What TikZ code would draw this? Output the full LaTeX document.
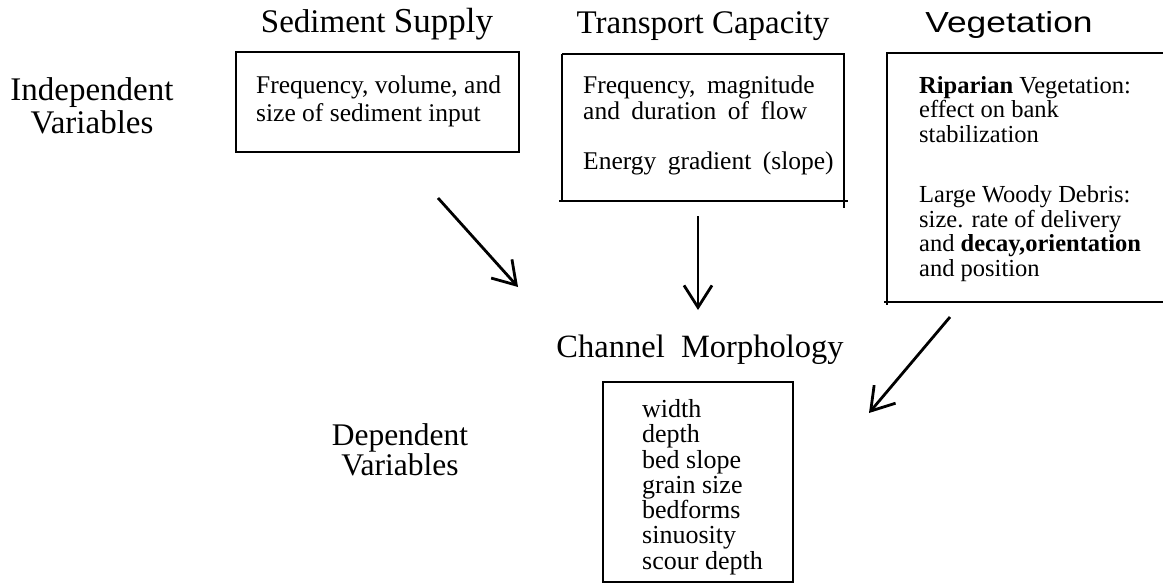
\documentclass[tikz,border=0pt]{standalone}
\usepackage{fontspec}
\setmainfont{Liberation Serif}
\newfontfamily\sansf{Liberation Sans}
\usetikzlibrary{arrows.meta}
\tikzset{
  lbl/.style={anchor=base, inner sep=0pt, font=\fontsize{33}{31}\selectfont},
  txt/.style={anchor=base west, inner sep=0pt},
  boxline/.style={draw=black, line width=2.2pt},
  arr/.style={line width=2.8pt, -{Straight Barb[length=22pt,width=28pt,line width=2.8pt]}}
}
\begin{document}
\begin{tikzpicture}[x=1pt,y=-1pt]
\useasboundingbox (0,0) rectangle (1163,586);
% side labels
\node[lbl] (indep) at (92,101) {\begin{tabular}[t]{@{}c@{}}Independent\\Variables\end{tabular}};
\node[lbl, font=\fontsize{31.5}{30}\selectfont] (dep) at (400,445) {\begin{tabular}[t]{@{}c@{}}Dependent\\Variables\end{tabular}};
% titles
\node[lbl] (tsed) at (377,33) {Sediment {\fontsize{35}{35}\selectfont Supply}};
\node[lbl] (ttra) at (703,34) {Transport Capacity};
\node[lbl, font=\sansf\fontsize{29}{28}\selectfont] (tveg) at (1009,33) {\scalebox{1.22}[1]{Vegetation}};
\node[lbl, font=\fontsize{32.5}{32}\selectfont] (tmor) at (700,357) {Channel\ \ Morphology};
% boxes
\draw[boxline] (236,52) rectangle (519,152);
\draw[boxline] (562,54) -- (844,54) -- (844,208);
\draw[boxline] (562,54) -- (562,201);
\draw[boxline] (559,201) -- (848,201);
\draw[boxline] (1166,53) -- (887,53) -- (887,305);
\draw[boxline] (884,302) -- (1166,302);
\draw[boxline] (603,382) rectangle (793,582);
% box texts
\node[txt] (sedtxt) at (256,94) {\fontsize{25.5}{28}\selectfont
  \begin{tabular}[t]{@{}l@{}}Frequency, volume, and\\size of sediment input\end{tabular}};
\node[txt] (tratxt) at (583,93) {\fontsize{25.5}{26}\selectfont\spaceskip=0.45em
  \begin{tabular}[t]{@{}l@{}}Frequency, magnitude\\and duration of flow\\[25pt]Energy gradient (slope)\end{tabular}};
\node[txt] (vegtxt) at (919,93) {\fontsize{24.5}{24.5}\selectfont
  \begin{tabular}[t]{@{}l@{}}{\bfseries Riparian} Vegetation:\\effect on bank\\stabilization\\[36pt]Large Woody Debris:\\size. rate of delivery\\and {\bfseries decay,orientation}\\and position\end{tabular}};
\node[txt] (mortxt) at (642,417) {\fontsize{26}{25}\selectfont
  \begin{tabular}[t]{@{}l@{}}width\\depth\\bed slope\\grain size\\bedforms\\sinuosity\\scour depth\end{tabular}};
% arrows
\coordinate (a1s) at (438,198);
\coordinate (a1e) at (518,287);
\coordinate (a2s) at (698,216);
\coordinate (a2e) at (698,310);
\coordinate (a3s) at (950,317);
\coordinate (a3e) at (869,413);
\draw[arr] (a1s) -- (a1e);
\draw[arr] (a2s) -- (a2e);
\draw[arr] (a3s) -- (a3e);
\end{tikzpicture}
\end{document}
